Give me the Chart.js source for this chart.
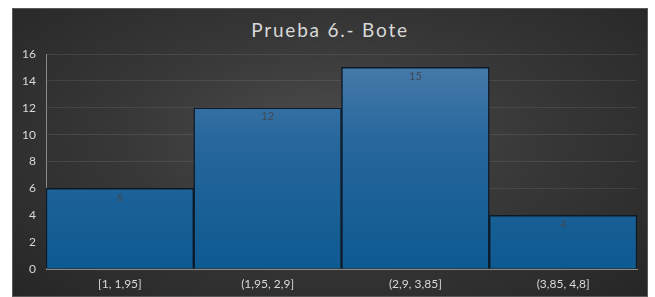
<!DOCTYPE html>
<html>
<head>
<meta charset="utf-8">
<script src="https://cdn.jsdelivr.net/npm/chart.js@4"></script>
<style>
    body { margin: 0; background: #fff; width: 655px; height: 297px; overflow: hidden; }
    #panel {
        position: absolute; left: 12px; top: 8px; width: 636px; height: 289px;
        background: radial-gradient(ellipse at 50% 45%, #4d4d4d 0%, #383838 45%, #262626 100%);
        box-shadow: inset 0 0 0 1px #5a5a5a;
    }
    #title {
        position: absolute; left: 0; right: 0; top: 10px; text-align: center;
        font-family: Lato, "Open Sans", sans-serif; font-size: 19px; letter-spacing: 1.8px;
        color: #d9d9d9;
    }
    #wrap { position: absolute; left: 0; top: 0; width: 636px; height: 289px; }
</style>
</head>
<body>
<div id="panel">
    <div id="title">Prueba 6.- Bote</div>
    <div id="wrap"><canvas id="chart"></canvas></div>
</div>
<script>
// Data
const categories = ['[1, 1,95]', '(1,95, 2,9]', '(2,9, 3,85]', '(3,85, 4,8]'];
const counts = [6, 12, 15, 4];
const yTicks = [0, 2, 4, 6, 8, 10, 12, 14, 16];

const FONT = 'Lato, "Open Sans", sans-serif';

// bar fill: lighter towards the top
function barGradient(chart) {
    const { ctx, chartArea } = chart;
    if (!chartArea) return '#1b5f95';
    const g = ctx.createLinearGradient(0, chartArea.bottom, 0, chartArea.top);
    g.addColorStop(0, '#0d5a91');
    g.addColorStop(0.6, '#27679c');
    g.addColorStop(1, '#4a7dab');
    return g;
}

// value labels just inside the top of each bar
const valueLabels = {
    id: 'valueLabels',
    afterDatasetsDraw(chart) {
        const ctx = chart.ctx;
        const meta = chart.getDatasetMeta(0);
        ctx.save();
        ctx.font = '11px ' + FONT;
        ctx.fillStyle = '#404a55';
        ctx.textAlign = 'center';
        ctx.textBaseline = 'middle';
        meta.data.forEach((bar, i) => {
            ctx.fillText(String(counts[i]), bar.x, bar.y + 9);
        });
        ctx.restore();
    }
};

new Chart(document.getElementById('chart'), {
    type: 'bar',
    data: {
        labels: categories,
        datasets: [{
            data: counts,
            backgroundColor: ctx => barGradient(ctx.chart),
            borderColor: '#0c1a28',
            borderWidth: 1.5,
            barPercentage: 1,
            categoryPercentage: 1
        }]
    },
    options: {
        responsive: true,
        maintainAspectRatio: false,
        animation: false,
        layout: { padding: { top: 46, right: 11, left: 0, bottom: 0 } },
        plugins: {
            legend: { display: false },
            tooltip: { enabled: false }
        },
        scales: {
            x: {
                grid: { display: false, drawTicks: false },
                border: { color: '#8a8a8a', width: 1 },
                ticks: { color: '#d9d9d9', font: { family: FONT, size: 12 }, padding: 8 },
                afterFit: scale => { scale.height = 28; }
            },
            y: {
                min: 0,
                max: 16,
                afterBuildTicks: scale => { scale.ticks = yTicks.map(v => ({ value: v })); },
                grid: { color: 'rgba(255,255,255,0.09)', drawTicks: false },
                border: { color: '#8a8a8a', width: 1 },
                ticks: { color: '#d9d9d9', font: { family: FONT, size: 12 }, padding: 10 },
                afterFit: scale => { scale.width = 34; }
            }
        }
    },
    plugins: [valueLabels]
});
</script>
</body>
</html>
